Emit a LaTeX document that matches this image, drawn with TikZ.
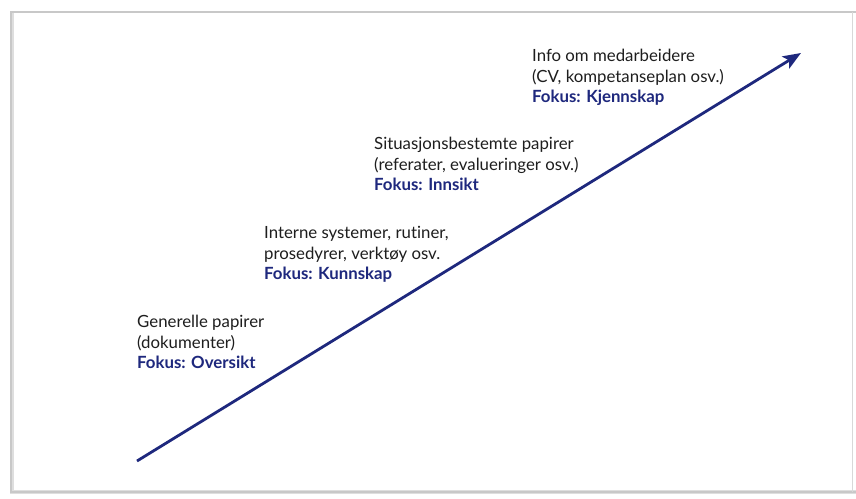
\documentclass[tikz,border=0pt]{standalone}
\usepackage{fontspec}
\setmainfont{Lato}[RawFeature={-liga}]
\usetikzlibrary{arrows.meta}
\definecolor{navy}{RGB}{30,40,125}
\definecolor{txt}{RGB}{30,30,30}
\definecolor{framegray}{RGB}{200,200,200}
\tikzset{
  lbl/.style={anchor=north west, align=left, inner sep=0pt, text=txt,
    font=\fontsize{16.8}{20.6}\selectfont},
  arr/.style={navy, line width=2.8pt, -{Stealth[length=18pt, width=14pt, inset=4pt]}}
}
\begin{document}
\begin{tikzpicture}[x=1pt,y=-1pt]
\useasboundingbox (0,0) rectangle (856,498);
\fill[white] (0,0) rectangle (856,498);
% frame
\draw[framegray!60, line width=4pt] (12,13) -- (12,492) -- (858,492);
\draw[framegray, line width=1.6pt] (858,12) -- (11,12) -- (11,492) -- (858,492);
\draw[framegray!70, line width=1pt] (852,12) -- (852,492);
% arrow
\coordinate (s) at (137,461);
\coordinate (e) at (801,53);
\draw[arr] (s) -- (e);
% labels
\node[lbl] (g) at (137,315) {Generelle papirer\\(dokumenter)\\{\bfseries\color{navy}Fokus: Oversikt}};
\node[lbl] (i) at (264,226) {Interne systemer, rutiner,\\prosedyrer, verktøy osv.\\{\bfseries\color{navy}Fokus: Kunnskap}};
\node[lbl] (si) at (374,137) {Situasjonsbestemte papirer\\(referater, evalueringer osv.)\\{\bfseries\color{navy}Fokus: Innsikt}};
\node[lbl] (m) at (532,49) {Info om medarbeidere\\(CV, kompetanseplan osv.)\\{\bfseries\color{navy}Fokus: Kjennskap}};
\end{tikzpicture}
\end{document}
